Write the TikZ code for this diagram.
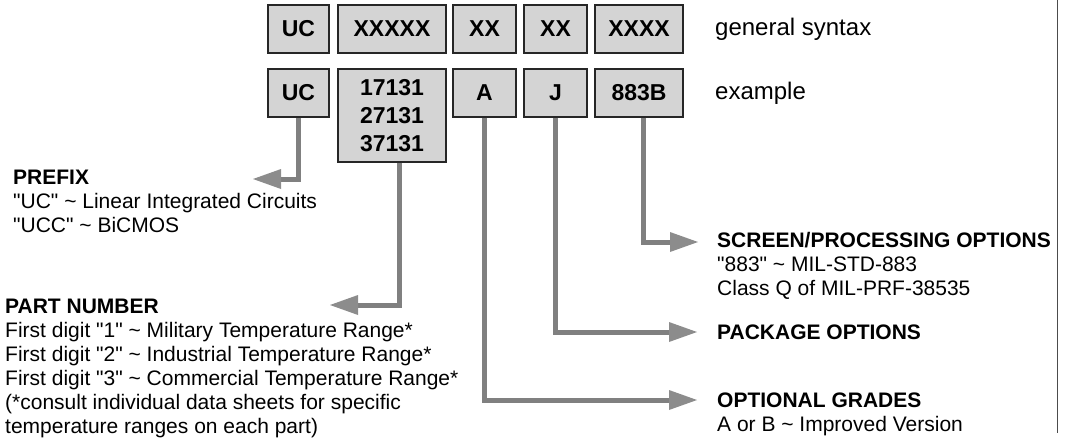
\documentclass[tikz,border=0pt]{standalone}
\usepackage{fontspec}
\setmainfont{Liberation Sans}[Ligatures=TeXOff]
\usetikzlibrary{arrows.meta}
\begin{document}
\begin{tikzpicture}[x=1pt,y=-1pt,
  codebox/.style={draw=black!85, line width=1.2pt, fill=black!17, inner sep=0pt,
    font=\fontsize{23}{28}\selectfont\bfseries, align=center, minimum height=48pt},
  conn/.style={draw=black!50, line width=5pt, line join=miter,
    -{Triangle[length=28pt,width=20pt,line width=0pt,fill=black!45,color=black!45]}},
  txt/.style={inner sep=0pt, align=left, font=\fontsize{21}{24}\selectfont, anchor=north west},
  lbl/.style={inner sep=0pt, font=\fontsize{24}{28}\selectfont, anchor=base west}
]
\useasboundingbox (0,0) rectangle (1066,445);

% general syntax row
\node[codebox, minimum width=61pt]  (s1) at (298.5,29) {UC};
\node[codebox, minimum width=108pt] (s2) at (392,29)   {XXXXX};
\node[codebox, minimum width=63pt]  (s3) at (484.5,29) {XX};
\node[codebox, minimum width=63pt]  (s4) at (555.5,29) {XX};
\node[codebox, minimum width=88pt]  (s5) at (639,29)   {XXXX};
\node[lbl] (gs) at (715,35) {general syntax};

% example row
\node[codebox, minimum width=61pt]  (e1) at (298.5,93) {UC};
\node[codebox, minimum width=108pt, minimum height=93pt] (e2) at (392,115.5) {17131\\27131\\37131};
\node[codebox, minimum width=63pt]  (e3) at (484.5,93) {A};
\node[codebox, minimum width=63pt]  (e4) at (555.5,93) {J};
\node[codebox, minimum width=88pt]  (e5) at (639,93)   {883B};
\node[lbl] (ex) at (715,99) {example};

% descriptions
\node[txt] (prefix) at (13,169.5) {\textbf{PREFIX}\\
"UC" \textasciitilde{} Linear Integrated Circuits\\
"UCC" \textasciitilde{} BiCMOS};
\node[txt] (partno) at (5,298.5) {\textbf{PART NUMBER}\\
First digit "1" \textasciitilde{} Military Temperature Range*\\
First digit "2" \textasciitilde{} Industrial Temperature Range*\\
First digit "3" \textasciitilde{} Commercial Temperature Range*\\
(*consult individual data sheets for specific\\
temperature ranges on each part)};
\node[txt] (screen) at (717,232.5) {\textbf{SCREEN/PROCESSING OPTIONS}\\
"883" \textasciitilde{} MIL-STD-883\\
Class Q of MIL-PRF-38535};
\node[txt] (package) at (717,324.5) {\textbf{PACKAGE OPTIONS}};
\node[txt] (grades) at (717,392.5) {\textbf{OPTIONAL GRADES}\\
A or B \textasciitilde{} Improved Version};

% connectors
\coordinate (tUC) at (253,179);
\draw[conn] (e1.south) |- (tUC);
\coordinate (kPN) at (399,305);
\coordinate (tPN) at (330,305);
\draw[conn] (e2.south -| kPN) -- (kPN) -- (tPN);
\coordinate (tOG) at (697,400);
\draw[conn] (e3.south) |- (tOG);
\coordinate (tPK) at (697,332);
\draw[conn] (e4.south) |- (tPK);
\coordinate (kSC) at (643,242);
\coordinate (tSC) at (698,242);
\draw[conn] (e5.south -| kSC) -- (kSC) -- (tSC);

% right rule
\draw[black!70, line width=1pt] (1057,0) -- (1057,433);
\end{tikzpicture}
\end{document}
